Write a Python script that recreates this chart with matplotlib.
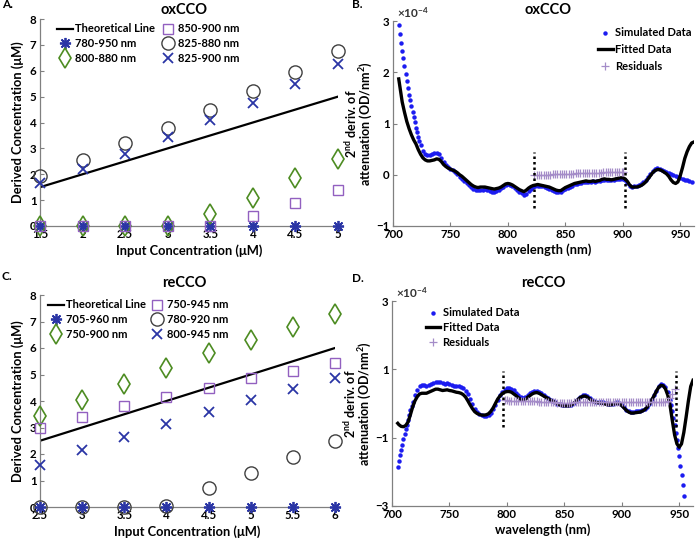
import matplotlib
matplotlib.use("Agg")
import matplotlib.pyplot as plt
import numpy as np

plt.rcParams["font.family"] = ["Lato", "DejaVu Sans"]
plt.rcParams["font.weight"] = "bold"
plt.rcParams["mathtext.default"] = "regular"

# ---- panel A: oxCCO derived vs input concentration ----
a_input = [1.5, 2, 2.5, 3, 3.5, 4, 4.5, 5]
a_780_950 = [0, 0, 0, 0, 0, 0, 0, 0]
a_800_880 = [0, 0, 0, 0, 0.45, 1.1, 1.85, 2.6]
a_850_900 = [0, 0, 0, 0, 0, 0.4, 0.9, 1.4]
a_825_880 = [1.95, 2.55, 3.2, 3.8, 4.5, 5.2, 5.95, 6.75]
a_825_900 = [1.65, 2.2, 2.8, 3.45, 4.1, 4.75, 5.5, 6.25]

# ---- panel C: reCCO derived vs input concentration ----
c_input = [2.5, 3, 3.5, 4, 4.5, 5, 5.5, 6]
c_705_960 = [0, 0, 0, 0, 0, 0, 0, 0]
c_750_900 = [3.45, 4.05, 4.65, 5.25, 5.8, 6.3, 6.8, 7.3]
c_750_945 = [3.0, 3.4, 3.8, 4.15, 4.5, 4.85, 5.15, 5.45]
c_780_920 = [0, 0, 0, 0.05, 0.7, 1.3, 1.9, 2.5]
c_800_945 = [1.6, 2.15, 2.65, 3.15, 3.6, 4.05, 4.45, 4.85]

# ---- panel B: oxCCO spectra (x1e-4) ----
b_sim_wl = [705, 706, 707, 708, 709, 710, 711, 712, 713, 714, 715, 716, 717, 718,
            719, 720, 721, 722, 723, 724, 726, 728, 730, 732, 734, 736, 738, 740,
            742, 744, 746, 748, 750, 752, 754, 756, 758, 760, 762, 764, 766, 768,
            770, 772, 774, 776, 778, 780, 782, 784, 786, 788, 790, 792, 794, 796,
            798, 800, 802, 804, 806, 808, 810, 812, 814, 816, 818, 820, 822, 824,
            826, 828, 830, 832, 834, 836, 838, 840, 842, 844, 846, 848, 850, 852,
            854, 856, 858, 860, 862, 864, 866, 868, 870, 872, 874, 876, 878, 880,
            882, 884, 886, 888, 890, 892, 894, 896, 898, 900, 902, 904, 906, 908,
            910, 912, 914, 916, 918, 920, 922, 924, 926, 928, 930, 932, 934, 936,
            938, 940, 942, 944, 946, 948, 950, 952, 954, 956, 958, 960]
b_sim = [2.92, 2.74, 2.58, 2.42, 2.27, 2.12, 1.97, 1.83, 1.69, 1.56, 1.45, 1.34, 1.23, 1.13,
         1.03, 0.92, 0.84, 0.74, 0.65, 0.58, 0.47, 0.40, 0.38, 0.38, 0.40, 0.42, 0.42, 0.40,
         0.32, 0.24, 0.19, 0.15, 0.12, 0.09, 0.06, 0.02, -0.04, -0.09, -0.13, -0.16, -0.20, -0.24,
         -0.27, -0.29, -0.30, -0.30, -0.29, -0.28, -0.29, -0.31, -0.33, -0.33, -0.32, -0.29, -0.26, -0.23,
         -0.20, -0.19, -0.20, -0.22, -0.25, -0.29, -0.33, -0.36, -0.39, -0.37, -0.32, -0.27, -0.24, -0.22,
         -0.21, -0.21, -0.22, -0.24, -0.26, -0.27, -0.29, -0.31, -0.33, -0.34, -0.33, -0.30, -0.27, -0.25,
         -0.23, -0.21, -0.19, -0.18, -0.17, -0.16, -0.15, -0.14, -0.15, -0.14, -0.13, -0.14, -0.13, -0.12,
         -0.10, -0.10, -0.11, -0.10, -0.11, -0.10, -0.09, -0.09, -0.08, -0.08, -0.10, -0.16, -0.21, -0.23,
         -0.22, -0.21, -0.20, -0.19, -0.15, -0.11, -0.05, 0.01, 0.07, 0.11, 0.13, 0.12, 0.10, 0.08,
         0.06, 0.03, 0.01, -0.01, -0.03, -0.05, -0.07, -0.08, -0.10, -0.11, -0.13, -0.14]
b_fit_wl = [705, 706, 708, 710, 712, 714, 716, 718, 720, 722, 724, 726, 728, 730, 732,
            734, 736, 738, 740, 742, 744, 746, 748, 750, 752, 754, 756, 758, 760, 762,
            764, 766, 768, 770, 772, 774, 776, 778, 780, 782, 784, 786, 788, 790, 792,
            794, 796, 798, 800, 802, 804, 806, 808, 810, 812, 814, 816, 818, 820, 822,
            824, 826, 828, 830, 832, 834, 836, 838, 840, 842, 844, 846, 848, 850, 852,
            854, 856, 858, 860, 862, 864, 866, 868, 870, 872, 874, 876, 878, 880, 882,
            884, 886, 888, 890, 892, 894, 896, 898, 900, 902, 904, 906, 908, 910, 912,
            914, 916, 918, 920, 922, 924, 926, 928, 930, 932, 934, 936, 938, 940, 942,
            944, 946, 948, 950, 952, 954, 956, 958, 960, 962]
b_fit = [1.87, 1.72, 1.42, 1.22, 1.04, 0.90, 0.78, 0.68, 0.60, 0.49, 0.40, 0.33, 0.29, 0.27, 0.27,
         0.28, 0.29, 0.31, 0.30, 0.26, 0.20, 0.16, 0.13, 0.11, 0.09, 0.07, 0.04, 0.00, -0.03, -0.07,
         -0.11, -0.15, -0.19, -0.22, -0.24, -0.25, -0.24, -0.24, -0.24, -0.25, -0.26, -0.27, -0.28, -0.27, -0.26,
         -0.24, -0.21, -0.18, -0.17, -0.18, -0.20, -0.23, -0.26, -0.29, -0.31, -0.33, -0.30, -0.26, -0.23, -0.21,
         -0.20, -0.19, -0.20, -0.21, -0.22, -0.23, -0.24, -0.26, -0.28, -0.30, -0.31, -0.31, -0.28, -0.25, -0.23,
         -0.21, -0.19, -0.17, -0.16, -0.15, -0.14, -0.13, -0.12, -0.13, -0.13, -0.12, -0.13, -0.12, -0.11, -0.09,
         -0.08, -0.09, -0.09, -0.10, -0.09, -0.08, -0.07, -0.06, -0.06, -0.08, -0.13, -0.20, -0.24, -0.24, -0.24,
         -0.23, -0.21, -0.18, -0.14, -0.08, -0.02, 0.04, 0.08, 0.10, 0.10, 0.08, 0.05, 0.02, -0.03, -0.10,
         -0.15, -0.17, -0.14, -0.02, 0.14, 0.32, 0.45, 0.55, 0.62, 0.64]
b_res_wl = [823, 825, 827, 829, 831, 833, 835, 837, 839, 841, 843, 845, 847, 849, 851,
            853, 855, 857, 859, 861, 863, 865, 867, 869, 871, 873, 875, 877, 879, 881,
            883, 885, 887, 889, 891, 893, 895, 897, 899, 900]
b_res = [-0.01, -0.01, -0.01, 0.00, 0.00, 0.00, 0.00, 0.00, 0.01, 0.01, 0.01, 0.01, 0.02, 0.02, 0.02,
         0.02, 0.02, 0.02, 0.03, 0.03, 0.03, 0.03, 0.03, 0.03, 0.04, 0.04, 0.04, 0.04, 0.04, 0.04,
         0.05, 0.05, 0.05, 0.05, 0.05, 0.05, 0.05, 0.06, 0.06, 0.06]
b_bounds = [823, 902]

# ---- panel D: reCCO spectra (x1e-4) ----
d_sim_wl = [705, 706, 707, 708, 709, 710, 711, 712, 713, 714, 715, 716, 717, 718, 720,
            722, 724, 726, 728, 730, 732, 734, 736, 738, 740, 742, 744, 746, 748, 750,
            752, 754, 756, 758, 760, 762, 764, 766, 768, 770, 772, 774, 776, 778, 780,
            782, 784, 786, 788, 790, 792, 794, 796, 798, 800, 802, 804, 806, 808, 810,
            812, 814, 816, 818, 820, 822, 824, 826, 828, 830, 832, 834, 836, 838, 840,
            842, 844, 846, 848, 850, 852, 854, 856, 858, 860, 862, 864, 866, 868, 870,
            872, 874, 876, 878, 880, 882, 884, 886, 888, 890, 892, 894, 896, 898, 900,
            902, 904, 906, 908, 910, 912, 914, 916, 918, 920, 922, 924, 926, 928, 930,
            932, 934, 936, 938, 940, 942, 943, 944, 945, 946, 947, 948, 949, 950, 951,
            952, 953, 954]
d_sim = [-1.85, -1.68, -1.52, -1.36, -1.20, -1.05, -0.90, -0.76, -0.62, -0.48, -0.34, -0.20, -0.07, 0.05, 0.24,
         0.40, 0.50, 0.55, 0.54, 0.52, 0.54, 0.57, 0.60, 0.63, 0.64, 0.62, 0.59, 0.58, 0.59, 0.58,
         0.55, 0.52, 0.51, 0.50, 0.48, 0.44, 0.38, 0.27, 0.13, -0.02, -0.15, -0.25, -0.31, -0.35, -0.37,
         -0.37, -0.35, -0.28, -0.17, -0.04, 0.10, 0.24, 0.33, 0.40, 0.44, 0.45, 0.43, 0.39, 0.32, 0.25,
         0.19, 0.16, 0.18, 0.24, 0.30, 0.35, 0.38, 0.38, 0.35, 0.30, 0.25, 0.20, 0.15, 0.11, 0.07,
         0.03, 0.00, -0.02, -0.04, -0.05, -0.05, -0.05, -0.03, 0.02, 0.08, 0.14, 0.20, 0.24, 0.25, 0.22,
         0.16, 0.10, 0.07, 0.05, 0.05, 0.04, 0.03, 0.01, -0.01, -0.02, 0.00, 0.02, 0.03, 0.02, -0.03,
         -0.11, -0.18, -0.22, -0.25, -0.25, -0.23, -0.22, -0.22, -0.20, -0.16, -0.10, 0.00, 0.12, 0.25, 0.38,
         0.50, 0.56, 0.55, 0.47, 0.33, 0.10, -0.05, -0.22, -0.42, -0.62, -0.85, -1.08, -1.30, -1.55, -1.82,
         -2.08, -2.38, -2.70]
d_fit_wl = [705, 706, 708, 710, 712, 714, 716, 718, 720, 722, 724, 726, 728, 730, 732,
            734, 736, 738, 740, 742, 744, 746, 748, 750, 752, 754, 756, 758, 760, 762,
            764, 766, 768, 770, 772, 774, 776, 778, 780, 782, 784, 786, 788, 790, 792,
            794, 796, 798, 800, 802, 804, 806, 808, 810, 812, 814, 816, 818, 820, 822,
            824, 826, 828, 830, 832, 834, 836, 838, 840, 842, 844, 846, 848, 850, 852,
            854, 856, 858, 860, 862, 864, 866, 868, 870, 872, 874, 876, 878, 880, 882,
            884, 886, 888, 890, 892, 894, 896, 898, 900, 902, 904, 906, 908, 910, 912,
            914, 916, 918, 920, 922, 924, 926, 928, 930, 932, 934, 936, 938, 940, 942,
            944, 946, 948, 950, 952, 954, 956, 958, 960, 962]
d_fit = [-0.58, -0.62, -0.67, -0.68, -0.64, -0.54, -0.33, -0.10, 0.08, 0.20, 0.28, 0.30, 0.30, 0.30, 0.33,
         0.36, 0.39, 0.42, 0.42, 0.40, 0.38, 0.39, 0.40, 0.38, 0.37, 0.35, 0.33, 0.32, 0.30, 0.26,
         0.19, 0.08, -0.04, -0.15, -0.24, -0.29, -0.32, -0.34, -0.34, -0.33, -0.30, -0.23, -0.13, 0.00, 0.13,
         0.22, 0.29, 0.33, 0.35, 0.35, 0.33, 0.28, 0.23, 0.17, 0.12, 0.10, 0.12, 0.18, 0.23, 0.28,
         0.31, 0.32, 0.30, 0.26, 0.22, 0.18, 0.14, 0.10, 0.07, 0.03, -0.01, -0.04, -0.06, -0.07, -0.07,
         -0.07, -0.05, 0.00, 0.06, 0.12, 0.18, 0.21, 0.22, 0.19, 0.14, 0.08, 0.05, 0.03, 0.02, 0.01,
         0.00, -0.02, -0.04, -0.04, -0.03, -0.01, 0.00, -0.01, -0.06, -0.13, -0.20, -0.25, -0.28, -0.28, -0.27,
         -0.26, -0.25, -0.22, -0.18, -0.11, -0.02, 0.10, 0.22, 0.35, 0.47, 0.53, 0.52, 0.43, 0.25, -0.05,
         -0.50, -0.92, -1.18, -1.28, -1.18, -0.85, -0.40, 0.08, 0.50, 0.68]
d_res_wl = [798, 800, 802, 804, 806, 808, 810, 812, 814, 816, 818, 820, 822, 824, 826,
            828, 830, 832, 834, 836, 838, 840, 842, 844, 846, 848, 850, 852, 854, 856,
            858, 860, 862, 864, 866, 868, 870, 872, 874, 876, 878, 880, 882, 884, 886,
            888, 890, 892, 894, 896, 898, 900, 902, 904, 906, 908, 910, 912, 914, 916,
            918, 920, 922, 924, 926, 928, 930, 932, 934, 936, 938, 940, 942, 944, 946]
d_res = [0.09, 0.09, 0.08, 0.08, 0.08, 0.07, 0.07, 0.07, 0.06, 0.07, 0.07, 0.07, 0.06, 0.06, 0.06,
         0.05, 0.05, 0.05, 0.05, 0.04, 0.04, 0.03, 0.03, 0.02, 0.02, 0.02, 0.01, 0.02, 0.02, 0.02,
         0.03, 0.03, 0.03, 0.04, 0.04, 0.04, 0.04, 0.04, 0.03, 0.03, 0.03, 0.03, 0.03, 0.03, 0.03,
         0.03, 0.03, 0.03, 0.03, 0.03, 0.03, 0.03, 0.03, 0.03, 0.03, 0.03, 0.03, 0.03, 0.03, 0.03,
         0.03, 0.03, 0.03, 0.03, 0.03, 0.03, 0.03, 0.03, 0.04, 0.04, 0.05, 0.08, 0.15, 0.28, 0.42]
d_bounds = [797, 947]

BLUE = "#2a35a5"
PURPLE = "#9260c0"
GREY = "#404040"
GREEN = "#4d8c22"
AXC = "#808080"

W, H = 696, 541
fig = plt.figure(figsize=(W / 100, H / 100), dpi=100)


def px_axes(x0, y0, x1, y1):
    # axes from pixel box (top-left origin)
    return fig.add_axes([x0 / W, 1 - y1 / H, (x1 - x0) / W, (y1 - y0) / H])


def style(ax):
    for s in ["top", "right"]:
        ax.spines[s].set_visible(False)
    for s in ["left", "bottom"]:
        ax.spines[s].set_color(AXC)
        ax.spines[s].set_linewidth(0.9)
    ax.tick_params(direction="in", length=3, width=0.8, color=AXC, labelsize=8.3, pad=2.5)
    for lab in ax.get_xticklabels() + ax.get_yticklabels():
        lab.set_fontweight("bold")


def fmt(v):
    return f"{v:g}"


def conc_panel(ax, x, series, labels, ticks, leg_x, colsp):
    mk = dict(clip_on=False, linestyle="none", zorder=3)
    ax.plot(x, x, color="black", lw=1.6, label="Theoretical Line", zorder=2)
    ax.plot(x, series[0], marker=(8, 2, 0), ms=8, mew=1.3, color=BLUE, label=labels[0], **mk)
    ax.plot(x, series[1], marker="d", ms=10, mew=1.2, mfc="none", color=GREEN, label=labels[1], **mk)
    ax.plot(x, series[2], marker="s", ms=7.5, mew=1.0, mfc="none", color=PURPLE, label=labels[2], **mk)
    ax.plot(x, series[3], marker="o", ms=9.5, mew=1.0, mfc="none", color=GREY, label=labels[3], **mk)
    ax.plot(x, series[4], marker="x", ms=6.5, mew=1.3, color=BLUE, label=labels[4], **mk)
    ax.set_xlim(x[0], x[-1])
    ax.set_ylim(0, 8)
    ax.set_xticks(ticks)
    ax.set_xticklabels([fmt(t) for t in ticks])
    ax.set_yticks(range(9))
    ax.set_xlabel("Input Concentration (μM)", fontsize=9.3, fontweight="bold", labelpad=3)
    ax.set_ylabel("Derived Concentration (μM)", fontsize=9.3, fontweight="bold", labelpad=4)
    style(ax)
    ax.legend(loc="upper left", bbox_to_anchor=(leg_x, 1.0), ncol=2, frameon=False,
              handlelength=1.4, handletextpad=0.2, columnspacing=colsp,
              labelspacing=0.35, borderaxespad=0.0, prop={"weight": "bold", "size": 8})


def spec_panel(ax, sim_wl, sim, fit_wl, fit, res_wl, res, bounds, ylim, yticks, leg_anchor, lsp):
    ax.plot(sim_wl, sim, "o", color="#1c1cf0", ms=3.2, mew=0, label="Simulated Data", zorder=2)
    ax.plot(fit_wl, fit, color="black", lw=2.4, label="Fitted Data", zorder=3)
    ax.plot(res_wl, res, "+", color="#a48cc8", ms=6, mew=0.9, label="Residuals", zorder=4)
    for b in bounds:
        ax.plot([b, b], [ylim[2], ylim[3]], color="black", lw=1.8, ls=(0, (1, 1.2)), zorder=5)
    ax.set_xlim(700, 962)
    ax.set_ylim(ylim[0], ylim[1])
    ax.set_xticks([700, 750, 800, 850, 900, 950])
    ax.set_yticks(yticks)
    ax.set_xlabel("wavelength (nm)", fontsize=9.3, fontweight="bold", labelpad=2)
    ax.set_ylabel("2$^{nd}$ deriv. of\nattenuation (OD/nm$^{2}$)", fontsize=9,
                  fontweight="bold", labelpad=1, linespacing=0.88)
    style(ax)
    ax.text(0.012, 1.005, "×10$^{-4}$", transform=ax.transAxes, fontsize=8.5,
            fontweight="bold", color="#333333", ha="left", va="bottom")
    ax.legend(loc="upper left", bbox_to_anchor=leg_anchor, frameon=False,
              handlelength=1.3, handletextpad=0.2, labelspacing=lsp, borderaxespad=0.0,
              prop={"weight": "bold", "size": 8})


axA = px_axes(40, 19, 338, 226)
conc_panel(axA, a_input, [a_780_950, a_800_880, a_850_900, a_825_880, a_825_900],
           ["780-950 nm", "800-880 nm", "850-900 nm", "825-880 nm", "825-900 nm"], a_input,
           0.042, 0.5)

axC = px_axes(40, 295, 335, 507)
conc_panel(axC, c_input, [c_705_960, c_750_900, c_750_945, c_780_920, c_800_945],
           ["705-960 nm", "750-900 nm", "750-945 nm", "780-920 nm", "800-945 nm"], c_input,
           0.012, 0.3)

axB = px_axes(393, 21, 694, 226)
spec_panel(axB, b_sim_wl, b_sim, b_fit_wl, b_fit, b_res_wl, b_res, b_bounds,
           (-1, 3, -0.64, 0.45), [-1, 0, 1, 2, 3], (0.667, 0.99), 0.5)

axD = px_axes(392, 301, 693, 506)
spec_panel(axD, d_sim_wl, d_sim, d_fit_wl, d_fit, d_res_wl, d_res, d_bounds,
           (-3, 3, -0.7, 0.95), [-3, -1, 1, 3], (0.098, 0.99), 0.35)

# panel titles and letters
for (x, y, t) in [(184, 10, "oxCCO"), (548, 10, "oxCCO"), (184, 283, "reCCO"), (543, 283, "reCCO")]:
    fig.text(x / W, 1 - y / H, t, ha="center", va="center", fontsize=10.5, fontweight="bold")
for (x, y, t) in [(2, 5, "A."), (352, 5, "B."), (2, 276, "C."), (352, 278, "D.")]:
    fig.text(x / W, 1 - y / H, t, ha="left", va="center", fontsize=8.5, fontweight="bold")

fig.savefig("out.png", dpi=100)
